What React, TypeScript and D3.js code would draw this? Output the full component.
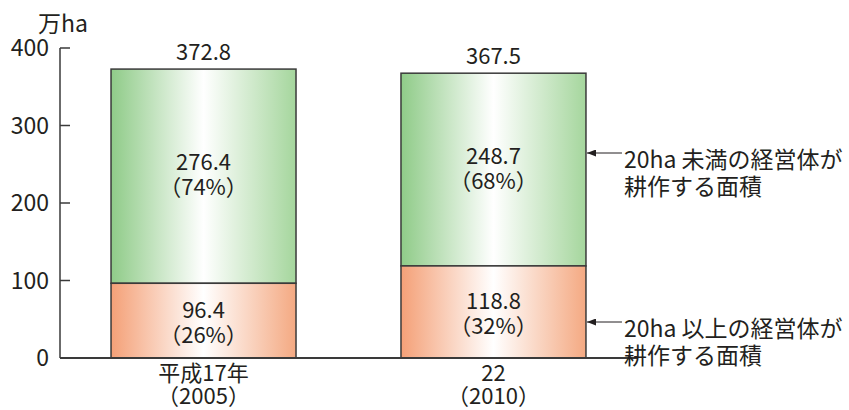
import React from "react";
import * as d3 from "d3";

const categories = ["平成17年", "22"];
const years = ["（2005）", "（2010）"];
const large = [96.4, 118.8];
const small = [276.4, 248.7];
const totals = [372.8, 367.5];
const largePct = ["（26%）", "（32%）"];
const smallPct = ["（74%）", "（68%）"];
const yTicks = [0, 100, 200, 300, 400];
const annotSmall = ["20ha 未満の経営体が", "耕作する面積"];
const annotLarge = ["20ha 以上の経営体が", "耕作する面積"];

const W = 849, H = 410;
const font = "'Noto Sans CJK JP', 'Noto Sans', sans-serif";
const tc = "#231f20";
const fs = 23;
const fsb = 22;

export default function App() {
  const y = d3.scaleLinear().domain([0, 400]).range([358, 48]);
  const x = d3.scaleBand<string>().domain(categories).range([60, 637]).paddingInner(0.362).paddingOuter(0.176);
  const bw = x.bandwidth();
  return (
    <svg width={W} height={H} style={{ position: "absolute", left: 0, top: 0 }} fontFamily={font}>
      <defs>
        <linearGradient id="gG" x1="0" x2="1" y1="0" y2="0">
          <stop offset="0" stopColor="#8fcb88" />
          <stop offset="0.5" stopColor="#ffffff" />
          <stop offset="1" stopColor="#a5d69d" />
        </linearGradient>
        <linearGradient id="gO" x1="0" x2="1" y1="0" y2="0">
          <stop offset="0" stopColor="#f4a077" />
          <stop offset="0.5" stopColor="#ffffff" />
          <stop offset="1" stopColor="#f4a982" />
        </linearGradient>
        <marker id="ah" markerWidth="9" markerHeight="7" refX="0" refY="3.5" orient="auto" markerUnits="userSpaceOnUse">
          <path d="M9,0 L0,3.5 L9,7 Z" fill={tc} />
        </marker>
      </defs>
      <text x={38} y={32} fontSize={fs} fill={tc}>万ha</text>
      {yTicks.map((t) => (
        <g key={t}>
          <text x={49} y={y(t) + 8} fontSize={fs} textAnchor="end" fill={tc}>{t}</text>
          {t > 0 && <line x1={60} x2={70} y1={y(t)} y2={y(t)} stroke="#3a3a3a" strokeWidth={1.5} />}
        </g>
      ))}
      <line x1={60} x2={60} y1={y(400)} y2={y(0)} stroke="#3a3a3a" strokeWidth={1.5} />
      {categories.map((c, i) => {
        const bx = x(c)!;
        const cx = bx + bw / 2;
        const yl = y(large[i]);
        const ys = y(large[i] + small[i]);
        return (
          <g key={c}>
            <rect x={bx} y={ys} width={bw} height={yl - ys} fill="url(#gG)" stroke="#3a3a3a" strokeWidth={1.5} />
            <rect x={bx} y={yl} width={bw} height={y(0) - yl} fill="url(#gO)" stroke="#3a3a3a" strokeWidth={1.5} />
            <text x={cx} y={ys - 9} fontSize={fsb} textAnchor="middle" fill={tc}>{totals[i]}</text>
            <text x={cx} y={(ys + yl) / 2 - 6} fontSize={fsb} textAnchor="middle" fill={tc}>{small[i]}</text>
            <text x={cx} y={(ys + yl) / 2 + 19} fontSize={fsb} textAnchor="middle" fill={tc}>{smallPct[i]}</text>
            <text x={cx} y={(yl + y(0)) / 2 - 3} fontSize={fsb} textAnchor="middle" fill={tc}>{large[i]}</text>
            <text x={cx} y={(yl + y(0)) / 2 + 22} fontSize={fsb} textAnchor="middle" fill={tc}>{largePct[i]}</text>
            <text x={cx} y={381} fontSize={fsb} textAnchor="middle" fill={tc}>{c}</text>
            <text x={cx} y={404} fontSize={fsb} textAnchor="middle" fill={tc}>{years[i]}</text>
          </g>
        );
      })}
      <line x1={60} x2={638} y1={y(0)} y2={y(0)} stroke="#3a3a3a" strokeWidth={1.8} />
      {[{ lines: annotSmall, yy: 153 }, { lines: annotLarge, yy: 322 }].map((a, k) => {
        const bx = x(categories[1])! + bw;
        return (
          <g key={k}>
            <line x1={bx + 1} x2={bx + 36} y1={a.yy} y2={a.yy} stroke={tc} strokeWidth={1} markerStart="url(#ah)" />
            <text x={bx + 38} y={a.yy + 15} fontSize={fs} fill={tc}>{a.lines[0]}</text>
            <text x={bx + 38} y={a.yy + 42} fontSize={fs} fill={tc}>{a.lines[1]}</text>
          </g>
        );
      })}
    </svg>
  );
}
